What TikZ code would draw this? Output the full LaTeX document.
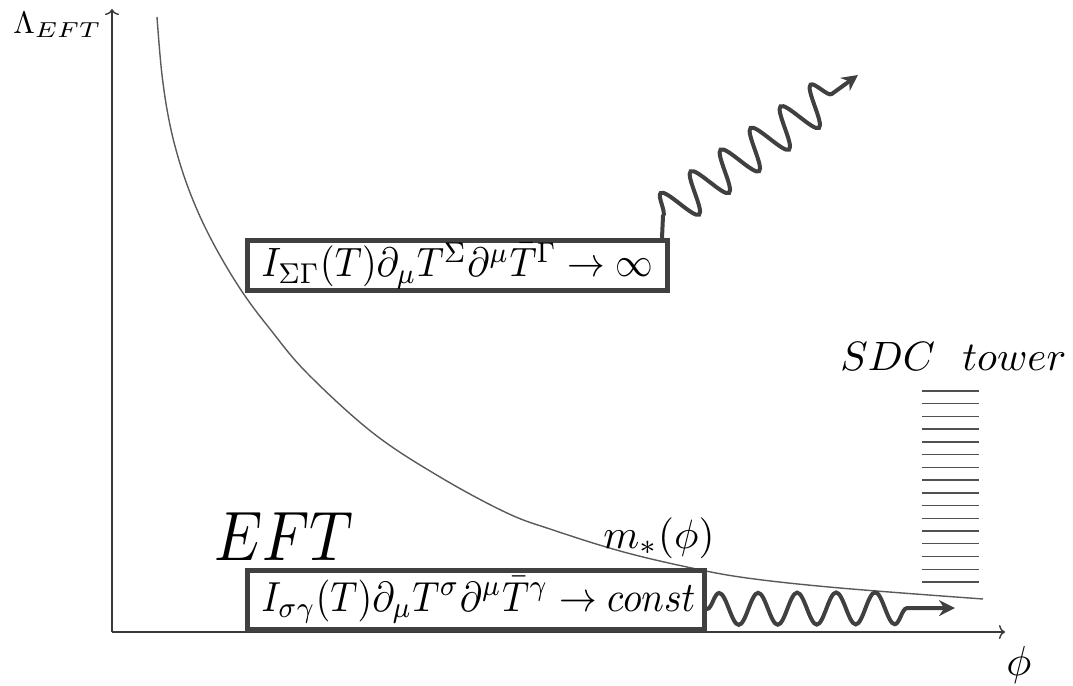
\documentclass[tikz,border=0pt]{standalone}
\usepackage{graphicx}
\usetikzlibrary{arrows.meta,decorations.pathmorphing}
\definecolor{boxgray}{HTML}{404040}
\definecolor{axgray}{HTML}{3A3A3A}
\definecolor{curvegray}{HTML}{5A5A5A}
\definecolor{towergray}{HTML}{505050}
\newcommand{\mysz}[2]{\scalebox{#1}{#2}}
\newcommand{\myszxy}[3]{\scalebox{#1}[#2]{#3}}
\begin{document}
\begin{tikzpicture}[x=0.5pt,y=-0.5pt,
  eqbox/.style={draw=boxgray,line width=2.5pt,inner sep=0pt},
  wavea/.style={draw=boxgray,line width=2pt,line cap=round,
    decoration={snake,amplitude=10pt,segment length=18.5pt,post length=15pt},
    -{Stealth[length=8pt,width=8pt]}},
  waveb/.style={draw=boxgray,line width=2pt,line cap=round,
    decoration={snake,amplitude=8pt,segment length=19.5pt,post length=17pt},
    -{Stealth[length=8pt,width=8pt]}},
  axis/.style={draw=axgray,line width=0.7pt,-{To[length=3pt,width=7pt]}},
  towerline/.style={draw=towergray,line width=0.7pt},
  lab/.style={inner sep=0pt,text=black}]
\useasboundingbox (0,0) rectangle (1073,686);
% axes
\coordinate (O) at (112,632);
\coordinate (ytop) at (112,9);
\coordinate (xend) at (1005,632);
\draw[axis] (O) -- (ytop);
\draw[axis] (O) -- (xend);
\node[lab,anchor=base west] (ylab) at (13,33) {\mysz{1.55}{$\Lambda_{\myszxy{1.15}{1}{$\scriptstyle EFT$}}$}};
\node[lab,anchor=base] (xlab) at (1019,675) {\mysz{2.1}{$\phi$}};
% curve m_*(phi)
\draw[curvegray,line width=0.7pt] plot[smooth,tension=0.6] coordinates {
 (157,17) (162,75) (170,125) (182,170) (198,212) (218,252) (243,293) (270,329)
 (307,373) (373,433) (440,477) (507,513) (553,530) (620,551) (687,567) (747,578) (840,588) (983,599)};
\node[lab,anchor=base west] (mlab) at (603,548) {\mysz{2.05}{$m_*(\phi)$}};
% labels
\node[lab,anchor=base west] (eft) at (214,560) {\myszxy{3.03}{3.5}{$EFT$}};
\node[lab,anchor=base west] (sdc) at (840,370) {\mysz{2.05}{$SDC\ \ tower$}};
% tower
\foreach \i in {0,...,15}{
  \pgfmathsetmacro{\yy}{391+12.73*\i}
  \draw[towerline] (922,\yy) -- (979,\yy);
}
% boxes
\node[eqbox,minimum width=210pt,minimum height=25pt] (box1) at (457.5,265.5)
  {\myszxy{1.88}{2.05}{$I_{\Sigma\Gamma}(T)\partial_\mu T^\Sigma\partial^\mu\bar{T}^\Gamma\to\infty$}\hspace{4pt}};
\node[eqbox,minimum width=228.5pt,minimum height=29.5pt] (box2) at (476,600)
  {\hspace{2.5pt}\myszxy{1.88}{2.1}{$I_{\sigma\gamma}(T)\partial_\mu T^\sigma\partial^\mu\bar{T}^\gamma\to const$}};
% waves
\coordinate (w1s) at ([xshift=-4pt]box1.north east);
\coordinate (w1k) at ([xshift=-3.5pt,yshift=11pt]box1.north east);
\coordinate (w1e) at (858,75);
\draw[wavea] (w1s) -- (w1k) decorate {-- (w1e)};
\coordinate (w2s) at ([yshift=-4.5pt]box2.east);
\coordinate (w2e) at (955,608);
\draw[waveb] (w2s) decorate {-- (w2e)};
\end{tikzpicture}
\end{document}
